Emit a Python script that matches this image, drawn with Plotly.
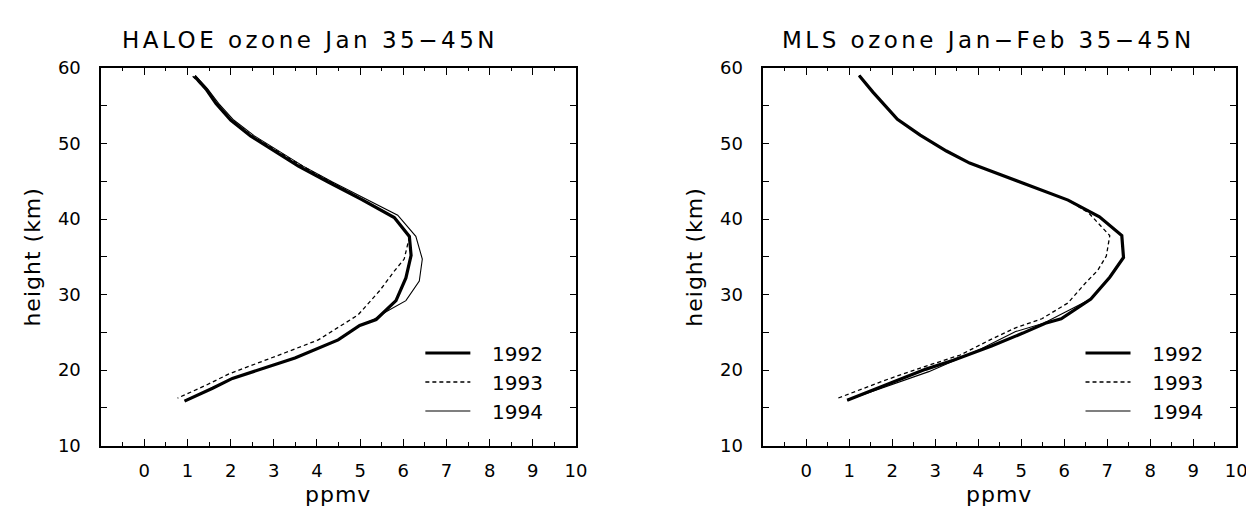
import plotly.graph_objects as go

# ---------------- data ----------------
haloe_h_1992 = [58.9, 57.2, 55.3, 53.1, 51.0, 48.5, 47.0, 44.9, 42.6, 40.2, 37.7, 35.2, 32.2, 29.2, 26.7, 25.9, 24.0, 21.6, 19.9, 18.9, 17.6, 15.9]
haloe_x_1992 = [1.16, 1.43, 1.66, 2.00, 2.46, 3.15, 3.57, 4.26, 5.03, 5.79, 6.14, 6.18, 6.06, 5.83, 5.37, 4.99, 4.49, 3.49, 2.57, 2.04, 1.58, 0.93]

haloe_h_1993 = [58.9, 57.2, 55.3, 53.1, 51.0, 48.5, 47.0, 44.9, 42.6, 40.2, 37.6, 34.7, 33.1, 30.5, 27.3, 25.9, 24.0, 22.3, 20.8, 19.5, 18.0, 16.3]
haloe_x_1993 = [1.12, 1.42, 1.66, 2.02, 2.50, 3.22, 3.66, 4.33, 5.06, 5.80, 6.14, 6.02, 5.79, 5.45, 4.95, 4.57, 4.03, 3.26, 2.57, 1.96, 1.43, 0.77]

haloe_h_1994 = [59.0, 57.2, 55.3, 53.1, 51.0, 48.5, 47.0, 44.9, 42.1, 40.5, 37.7, 34.7, 31.8, 29.2, 27.6, 26.7, 25.9, 24.0, 21.6, 19.9, 18.9, 17.6, 16.0]
haloe_x_1994 = [1.18, 1.47, 1.72, 2.07, 2.55, 3.25, 3.68, 4.36, 5.33, 5.87, 6.29, 6.44, 6.37, 6.06, 5.56, 5.32, 4.99, 4.49, 3.49, 2.57, 2.04, 1.58, 0.95]

mls_h_1992 = [59.0, 56.8, 53.2, 51.1, 49.0, 48.2, 47.4, 46.5, 44.8, 42.5, 40.3, 37.8, 34.9, 32.3, 29.4, 26.8, 26.2, 24.9, 23.2, 21.3, 20.1, 17.9, 16.0]
mls_x_1992 = [1.23, 1.55, 2.12, 2.65, 3.26, 3.52, 3.80, 4.23, 5.04, 6.09, 6.82, 7.34, 7.38, 7.06, 6.62, 5.93, 5.56, 5.04, 4.31, 3.42, 2.77, 1.80, 0.95]

mls_h_1993 = [59.0, 56.8, 53.2, 51.1, 49.0, 48.2, 47.4, 46.5, 44.8, 42.5, 40.8, 37.8, 35.1, 33.2, 31.5, 28.9, 26.8, 25.6, 24.1, 22.0, 20.5, 18.6, 16.3]
mls_x_1993 = [1.23, 1.55, 2.12, 2.65, 3.26, 3.52, 3.80, 4.23, 5.04, 6.09, 6.57, 7.06, 6.98, 6.78, 6.49, 6.09, 5.48, 4.87, 4.31, 3.58, 2.77, 1.80, 0.74]

mls_h_1994 = [59.0, 56.8, 53.2, 51.1, 49.0, 48.2, 47.4, 46.5, 44.8, 42.5, 40.3, 37.8, 34.9, 32.3, 29.4, 27.0, 26.2, 25.1, 22.8, 19.8, 17.7, 16.0]
mls_x_1994 = [1.23, 1.55, 2.12, 2.65, 3.26, 3.52, 3.80, 4.23, 5.04, 6.09, 6.82, 7.34, 7.38, 7.06, 6.62, 5.77, 5.52, 4.87, 4.06, 2.85, 1.80, 0.95]

years = ["1992", "1993", "1994"]
x_ticks = [0, 1, 2, 3, 4, 5, 6, 7, 8, 9, 10]
y_ticks = [10, 20, 30, 40, 50, 60]
titles = ["HALOE ozone Jan 35−45N", "MLS ozone Jan−Feb 35−45N"]
x_title = "ppmv"
y_title = "height (km)"

# ---------------- figure ----------------
W, H = 1254, 510
FONT = "DejaVu Sans"
styles = [dict(width=3.2, dash="solid"), dict(width=1.3, dash="4px,3px"), dict(width=1.1, dash="solid")]
GAP = "\u00a0\u00a0\u2009"  # visual gap between legend sample and label

fig = go.Figure()
panels = [
    ("x", "y", "legend", [(haloe_x_1992, haloe_h_1992), (haloe_x_1993, haloe_h_1993), (haloe_x_1994, haloe_h_1994)]),
    ("x2", "y2", "legend2", [(mls_x_1992, mls_h_1992), (mls_x_1993, mls_h_1993), (mls_x_1994, mls_h_1994)]),
]
for xa, ya, lg, series in panels:
    for yr, (xs, hs), st in zip(years, series, styles):
        fig.add_trace(go.Scatter(x=xs, y=hs, mode="lines", name=GAP + yr, xaxis=xa, yaxis=ya,
                                 legend=lg, line=dict(color="black", **st)))

def px2x(p):
    return p / W

def py2y(p):
    return 1 - p / H

dom_x1 = [px2x(94), px2x(573)]
dom_x2 = [px2x(762), px2x(1239)]
dom_y = [py2y(445), py2y(51)]

axis_common = dict(showline=True, linecolor="black", linewidth=1.5, mirror="ticks",
                   ticks="inside", tickcolor="black", tickwidth=1.2, showgrid=False, zeroline=False,
                   tickfont=dict(family=FONT, size=18, color="black"))

xcfg = dict(axis_common, range=[-1, 10], tickvals=x_ticks, ticklen=7, ticklabelstandoff=8,
            minor=dict(dtick=0.5, tick0=0, ticks="inside", ticklen=3.5, tickwidth=1.2, tickcolor="black", showgrid=False))
ycfg = dict(axis_common, range=[10, 60], tickvals=y_ticks, ticklen=6, ticklabelstandoff=15,
            minor=dict(dtick=5, tick0=0, ticks="inside", ticklen=6, tickwidth=1.2, tickcolor="black", showgrid=False))

legend_common = dict(xanchor="left", yanchor="top", bgcolor="rgba(0,0,0,0)",
                     font=dict(family=FONT, size=20, color="black"), itemwidth=45)

fig.update_layout(
    width=W, height=H,
    margin=dict(l=0, r=0, t=0, b=0),
    paper_bgcolor="white", plot_bgcolor="white",
    font=dict(family=FONT, color="black"),
    xaxis=dict(xcfg, domain=dom_x1, anchor="y"),
    yaxis=dict(ycfg, domain=dom_y, anchor="x"),
    xaxis2=dict(xcfg, domain=dom_x2, anchor="y2"),
    yaxis2=dict(ycfg, domain=dom_y, anchor="x2"),
    legend=dict(legend_common, x=px2x(416), y=py2y(328)),
    legend2=dict(legend_common, x=px2x(1082), y=py2y(328)),
    showlegend=True,
)

ann = []
for t, x0 in zip(titles, [113, 779]):
    ann.append(dict(text='<span style="letter-spacing:3.5px">' + t + '</span>', x=px2x(x0), y=py2y(22),
                    xref="paper", yref="paper", xanchor="left", yanchor="middle", showarrow=False,
                    font=dict(family=FONT, size=23, color="black")))
for cx in [333, 1000]:
    ann.append(dict(text='<span style="letter-spacing:1px">' + x_title + '</span>', x=px2x(cx), y=py2y(496),
                    xref="paper", yref="paper", xanchor="center", yanchor="middle", showarrow=False,
                    font=dict(family=FONT, size=22, color="black")))
for cx in [25, 693]:
    ann.append(dict(text='<span style="letter-spacing:1px">' + y_title + '</span>', x=px2x(cx), y=py2y(248),
                    xref="paper", yref="paper", xanchor="center", yanchor="middle", showarrow=False,
                    textangle=-90, font=dict(family=FONT, size=22, color="black")))
fig.update_layout(annotations=ann)

fig.write_html("out.html")
